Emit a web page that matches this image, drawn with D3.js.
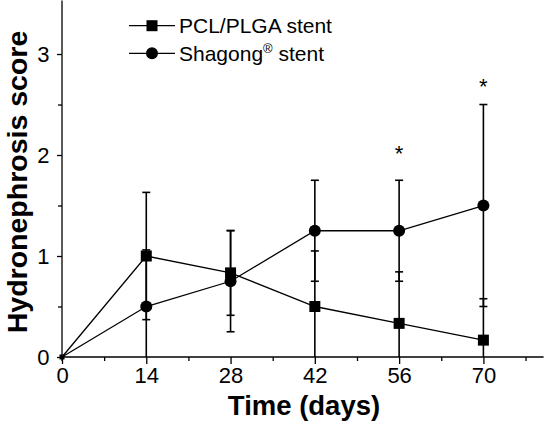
<!DOCTYPE html>
<html><head><meta charset="utf-8">
<script src="https://cdn.jsdelivr.net/npm/d3@7"></script>
<style>body{margin:0;background:#fff}svg{display:block}</style>
</head><body>
<svg id="c" width="545" height="424"></svg>
<script>
const days = [0, 14, 28, 42, 56, 70];
const pclMean = [0, 1.0, 0.833, 0.5, 0.333, 0.167];
const pclSD = [0, 0.63, 0.42, 0.55, 0.51, 0.41];
const shaMean = [0, 0.5, 0.75, 1.25, 1.25, 1.5];
const shaSD = [0, 0.56, 0.5, 0.5, 0.5, 1.0];
const starDays = [56, 70];
const starY = [2.05, 2.71];
const xTicks = [0, 14, 28, 42, 56, 70];
const xMinor = [7, 21, 35, 49, 63, 77];
const yTicks = [0, 1, 2, 3];
const yMinor = [0.5, 1.5, 2.5];
const seriesNames = ["PCL/PLGA stent", "Shagong"];

const svg = d3.select("#c");
const x = d3.scaleLinear().domain([0, 80]).range([62, 543.6]);
const y = d3.scaleLinear().domain([0, 3.53]).range([357, 0.5]);
const FONT = "Arial, 'Liberation Sans', Helvetica, sans-serif";

// axes
svg.append("g").attr("transform", `translate(0,${y(0)})`)
  .call(d3.axisBottom(x).tickValues(xTicks).tickSize(7).tickPadding(3).tickFormat(d3.format("d")));
svg.append("g").attr("transform", `translate(0,${y(0)})`)
  .call(d3.axisBottom(x).tickValues(xMinor).tickSize(4).tickFormat(""));
svg.append("g").attr("transform", `translate(${x(0)},0)`)
  .call(d3.axisLeft(y).tickValues(yTicks).tickSize(5).tickPadding(7.5).tickFormat(d3.format("d")));
svg.append("g").attr("transform", `translate(${x(0)},0)`)
  .call(d3.axisLeft(y).tickValues(yMinor).tickSize(4).tickFormat(""));
svg.selectAll(".tick line").attr("stroke", "#000").attr("stroke-width", 1.3);
svg.selectAll(".tick text").attr("font-family", FONT).attr("font-size", 22).attr("fill", "#000");
svg.selectAll("path.domain").remove();
svg.append("line").attr("x1", x(0)).attr("x2", x(80)).attr("y1", y(0)).attr("y2", y(0)).attr("stroke", "#000").attr("stroke-width", 1.3);
svg.append("line").attr("x1", x(0)).attr("x2", x(0)).attr("y1", y(0) + 4).attr("y2", y(3.53)).attr("stroke", "#000").attr("stroke-width", 1.3);

// error bars
function errorBars(mean, sd) {
  const g = svg.append("g").attr("stroke", "#000").attr("stroke-width", 1.6);
  days.forEach((d, i) => {
    if (sd[i] === 0) return;
    const hi = mean[i] + sd[i], lo = Math.max(0, mean[i] - sd[i]);
    g.append("line").attr("x1", x(d)).attr("x2", x(d)).attr("y1", y(hi)).attr("y2", y(lo));
    g.append("line").attr("x1", x(d) - 4).attr("x2", x(d) + 4).attr("y1", y(hi)).attr("y2", y(hi));
    if (mean[i] - sd[i] > 0)
      g.append("line").attr("x1", x(d) - 4).attr("x2", x(d) + 4).attr("y1", y(lo)).attr("y2", y(lo));
  });
}
errorBars(pclMean, pclSD);
errorBars(shaMean, shaSD);

const line = d3.line().x(d => x(d[0])).y(d => y(d[1]));
const pclPts = days.map((d, i) => [d, pclMean[i]]);
const shaPts = days.map((d, i) => [d, shaMean[i]]);
svg.append("path").attr("d", line(pclPts)).attr("fill", "none").attr("stroke", "#000").attr("stroke-width", 1.3);
svg.append("path").attr("d", line(shaPts)).attr("fill", "none").attr("stroke", "#000").attr("stroke-width", 1.3);

// markers (day 0 is mostly hidden at the origin)
svg.selectAll(".sq").data(pclPts.slice(1)).enter().append("rect")
  .attr("x", d => x(d[0]) - 5.5).attr("y", d => y(d[1]) - 5.5).attr("width", 11).attr("height", 11).attr("fill", "#000");
svg.selectAll(".ci").data(shaPts.slice(1)).enter().append("circle")
  .attr("cx", d => x(d[0])).attr("cy", d => y(d[1])).attr("r", 6).attr("fill", "#000");
svg.append("rect").attr("x", x(0) - 2.5).attr("y", y(0) - 2.5).attr("width", 5).attr("height", 5).attr("fill", "#000");

// asterisks
starDays.forEach((d, i) => {
  svg.append("text").attr("x", x(d)).attr("y", y(starY[i]) + 11).attr("text-anchor", "middle")
    .attr("font-family", FONT).attr("font-size", 22).text("*");
});

// legend
const lg = svg.append("g");
[0, 1].forEach(i => {
  const ly = 25.7 + i * 27.6;
  lg.append("line").attr("x1", 129).attr("x2", 175).attr("y1", ly).attr("y2", ly).attr("stroke", "#000").attr("stroke-width", 1.3);
  if (i === 0) lg.append("rect").attr("x", 152 - 5.5).attr("y", ly - 5.5).attr("width", 11).attr("height", 11).attr("fill", "#000");
  else lg.append("circle").attr("cx", 152).attr("cy", ly).attr("r", 6).attr("fill", "#000");
  const t = lg.append("text").attr("x", 179).attr("y", ly + 7.5).attr("font-family", FONT).attr("font-size", 21);
  if (i === 0) t.text(seriesNames[0]);
  else {
    t.append("tspan").text(seriesNames[1]);
    t.append("tspan").attr("font-size", 13).attr("dy", -8).text("®");
    t.append("tspan").attr("dy", 8).text(" stent");
  }
});

// axis titles
svg.append("text").attr("x", 304).attr("y", 415).attr("text-anchor", "middle")
  .attr("font-family", FONT).attr("font-weight", "bold").attr("font-size", 27.5).text("Time (days)");
svg.append("text").attr("transform", `translate(27,182) rotate(-90)`).attr("text-anchor", "middle")
  .attr("font-family", FONT).attr("font-weight", "bold").attr("font-size", 28.5).text("Hydronephrosis score");
</script>
</body></html>
